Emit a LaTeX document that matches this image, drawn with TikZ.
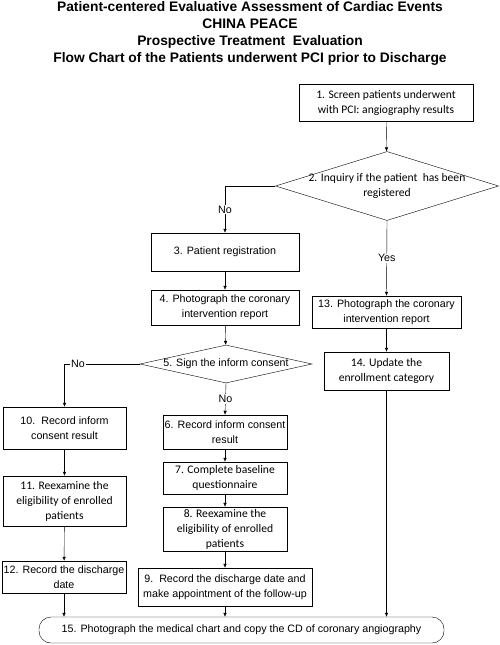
\documentclass[tikz,border=0pt]{standalone}
\usepackage{fontspec}
\setmainfont{Liberation Sans}
\newfontfamily\calfont{Carlito}
\usetikzlibrary{arrows.meta, shapes.geometric}
\tikzstyle{proc}=[rectangle, draw, thin, align=center, inner sep=1pt, font=\fontsize{10.7}{15}\selectfont]
\tikzstyle{cproc}=[proc, font=\calfont\fontsize{11.6}{15}\selectfont]
\tikzstyle{decision}=[diamond, draw, thin, inner sep=0pt]
\tikzstyle{dtext}=[align=center, inner sep=0pt]
\tikzstyle{flow}=[draw, thin, -{Latex[length=4pt, width=3.5pt]}]
\tikzstyle{answer}=[fill=white, inner sep=1pt, font=\fontsize{10.7}{11}\selectfont]

\begin{document}
\begin{tikzpicture}[x=1pt, y=-1pt, line width=0.6pt]
                    \useasboundingbox (0,0) rectangle (500,645);
                    \node[align=center, font=\bfseries\fontsize{13.8}{17}\selectfont] (title) at (250,33)
                        {Patient-centered Evaluative Assessment of Cardiac Events\\CHINA PEACE\\
                         Prospective Treatment\ \ Evaluation\\Flow Chart of the Patients underwent PCI prior to Discharge};
                    % right column
                    \node[cproc, minimum width=174, minimum height=37] (s1) at (386, 102.5)
                        {1. Screen patients underwent\\with PCI: angiography results};
                    \node[decision, minimum width=223, minimum height=69] (s2) at (387, 186) {};
                    \node[dtext, font=\calfont\fontsize{11.6}{15}\selectfont] (s2t) at (s2) {2. Inquiry if the patient\ \ has been\\registered};
                    \node[proc, minimum width=149, minimum height=32] (s13) at (386.5, 312)
                        {13. Photograph the coronary\\intervention report};
                    \node[cproc, minimum width=125, minimum height=38] (s14) at (386.5, 371)
                        {14. Update the\\enrollment category};
                    % middle column
                    \node[proc, minimum width=148, minimum height=38] (s3) at (225, 252) {3. Patient registration};
                    \node[proc, minimum width=148, minimum height=35] (s4) at (225, 307.5)
                        {4. Photograph the coronary\\intervention report};
                    \node[decision, minimum width=172, minimum height=38] (s5) at (226, 364) {};
                    \node[dtext, font=\fontsize{10.7}{11}\selectfont] (s5t) at (s5) {5. Sign the inform consent};
                    \node[proc, minimum width=124, minimum height=34] (s6) at (225, 432)
                        {6. Record inform consent\\result};
                    \node[cproc, minimum width=124, minimum height=32] (s7) at (225, 478)
                        {7. Complete baseline\\questionnaire};
                    \node[cproc, minimum width=124, minimum height=44] (s8) at (225, 529)
                        {8. Reexamine the\\eligibility of enrolled\\patients};
                    \node[proc, minimum width=174, minimum height=38] (s9) at (225, 587)
                        {9.\ \ Record the discharge date and\\make appointment of the follow-up};
                    % left column
                    \node[proc, minimum width=123, minimum height=42] (s10) at (64.5, 428)
                        {10.\ \ Record inform\\consent result};
                    \node[cproc, minimum width=123, minimum height=50] (s11) at (64.5, 501)
                        {11. Reexamine the\\eligibility of enrolled\\patients};
                    \node[proc, minimum width=124, minimum height=32] (s12) at (64, 577)
                        {12. Record the discharge\\date};
                    % bottom
                    \node[proc, rounded corners=12pt, minimum width=405, minimum height=26] (s15) at (241.5, 630)
                        {15. Photograph the medical chart and copy the CD of coronary angiography};
                    % connectors
                    \draw[flow] (s1) -- (s2);
                    \draw[flow] (s2.west) -| node[answer, pos=0.75] {No} (s3.north);
                    \draw[flow] (s2.south) -- node[answer] {Yes} (s13.north);
                    \draw[flow] (s13) -- (s14);
                    \draw[flow] (s3) -- (s4);
                    \draw[flow] (s4) -- (s5);
                    \draw[flow] (s5.west) -| node[answer, pos=0.41] {No} (s10.north);
                    \draw[flow] (s5.south) -- node[answer] {No} (s6.north);
                    \draw[flow] (s6) -- (s7);
                    \draw[flow] (s7) -- (s8);
                    \draw[flow] (s8) -- (s9);
                    \draw[flow] (s10) -- (s11);
                    \draw[flow] (s11) -- (s12);
                    \draw[flow] (s12.south) -- (s12.south |- s15.north);
                    \draw[flow] (s9.south) -- (s9.south |- s15.north);
                    \draw[flow] (s14.south) -- (s14.south |- s15.north);
                \end{tikzpicture}
\end{document}
